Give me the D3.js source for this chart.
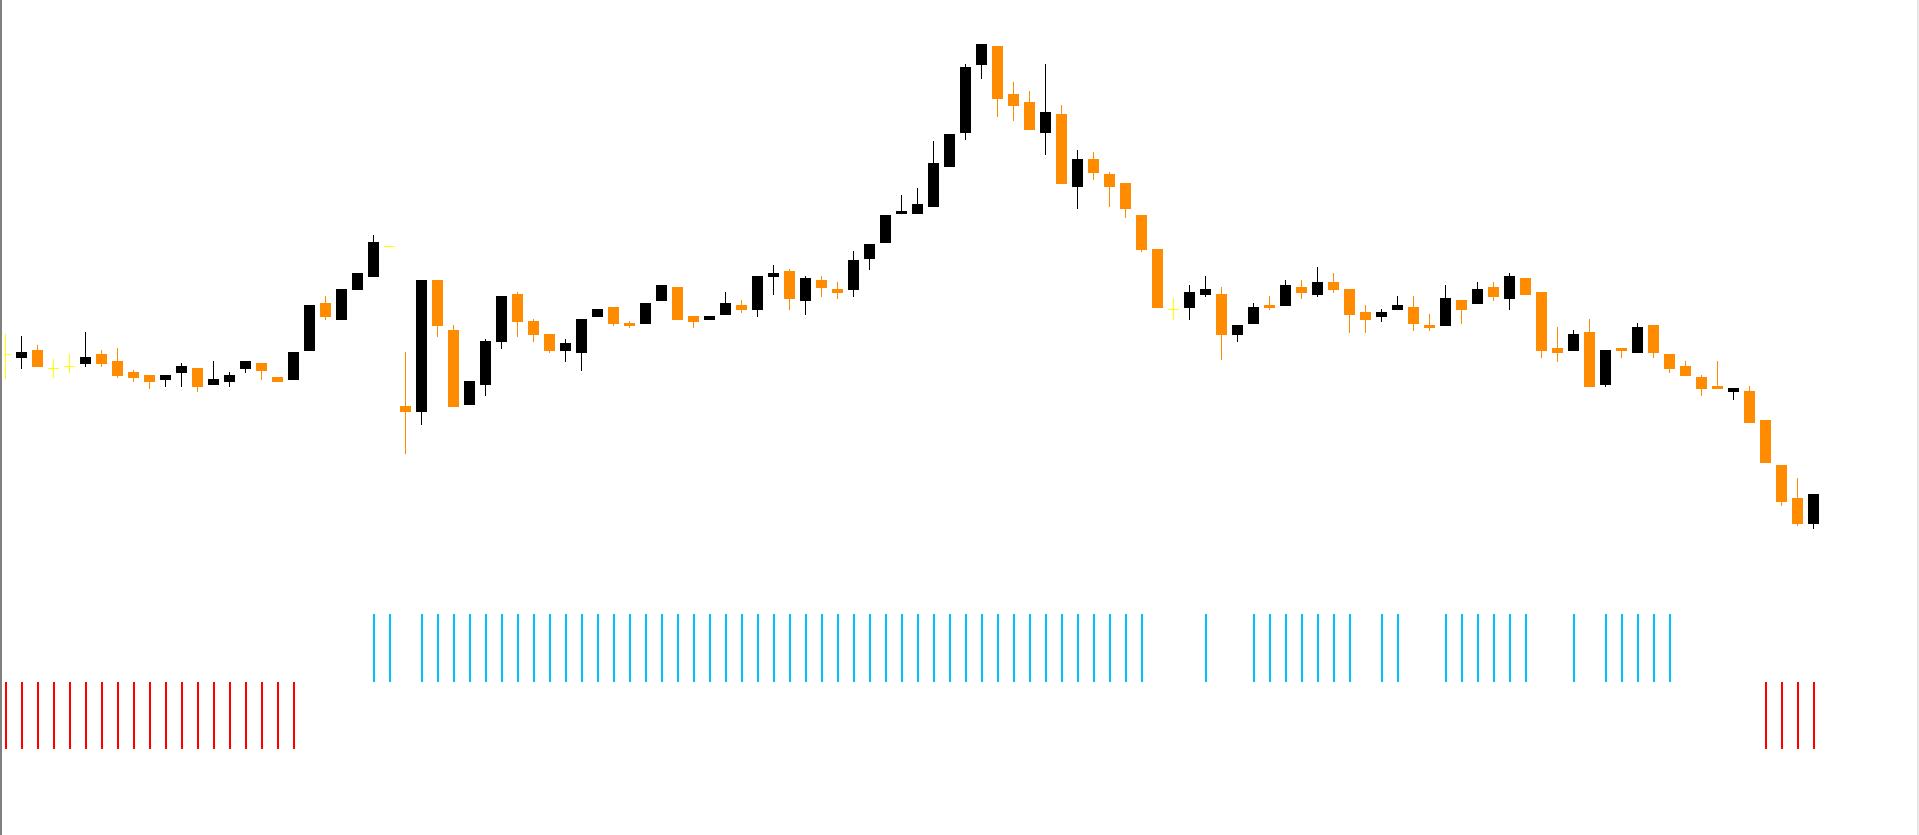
<!DOCTYPE html>
<html>
<head>
<meta charset="utf-8">
<script src="https://cdn.jsdelivr.net/npm/d3@7"></script>
<style>
  html, body { margin: 0; padding: 0; background: #ffffff; overflow: hidden; }
  svg { display: block; }
</style>
</head>
<body>
<script>
// Candle data (price units), bar index 0..113
const opens = [246,242,250,232,234,236,246,239,228,225,220,227,232,215,218,231,237,223,220,249,
  297,280,310,323,354,194,188,320,270,195,215,258,306,279,266,249,247,283,293,277,
  276,299,313,284,280,285,295,290,323,329,299,320,311,310,341,357,386,386,393,433,
  467,535,554,506,498,467,486,413,441,426,417,385,351,291,292,305,306,265,276,295,
  294,313,305,318,311,288,283,290,293,275,274,300,296,313,301,322,308,252,249,268,
  215,252,247,275,246,234,223,214,208,209,180,135,102,76];
const highs = [266,264,255,241,246,268,250,252,230,225,225,237,232,239,228,239,237,223,248,295,
  304,311,327,365,354,248,320,320,275,219,261,304,308,281,266,261,281,291,293,279,
  297,315,313,284,284,308,300,324,335,331,324,324,318,349,356,385,405,412,459,466,
  536,556,554,518,509,536,495,450,448,428,417,385,351,302,315,324,313,275,297,304,
  320,320,333,327,311,295,291,304,304,286,315,300,318,318,327,322,308,273,270,281,
  250,252,277,275,246,239,225,239,212,214,180,135,122,106];
const lows = [221,231,233,222,227,233,233,222,218,211,213,213,208,215,213,227,220,218,220,249,
  280,280,310,323,354,146,175,263,193,195,204,251,263,258,247,238,229,283,274,272,
  276,299,280,272,280,285,287,283,305,290,285,303,301,303,330,357,386,386,393,433,
  460,521,483,479,470,445,416,391,420,393,382,348,292,280,280,303,240,258,276,290,
  294,301,303,307,267,267,278,290,269,269,274,276,296,299,290,305,242,238,249,213,
  213,242,247,242,227,224,204,211,200,177,137,94,74,71];
const closes = [246,248,233,232,234,243,236,224,222,218,225,234,213,221,225,239,229,218,248,295,
  283,311,327,358,354,188,320,274,193,219,259,304,278,265,249,257,281,291,276,274,
  297,315,280,278,284,297,290,324,327,301,322,312,307,340,356,385,389,396,437,466,
  533,556,501,494,470,488,416,441,427,413,391,350,292,291,308,311,265,275,293,292,
  315,307,318,310,285,280,288,295,276,272,302,290,311,303,324,305,249,247,266,213,
  250,249,273,247,231,224,211,211,212,177,137,98,76,106];

// Signal histogram: 1 = up (blue), -1 = down (red), 0 = none
const upSignalBars = [23,24,26,27,28,29,30,31,32,33,34,35,36,37,38,39,40,41,42,43,44,45,46,47,48,49,
  50,51,52,53,54,55,56,57,58,59,60,61,62,63,64,65,66,67,68,69,70,71,75,78,79,80,81,82,83,84,86,87,
  90,91,92,93,94,95,98,100,101,102,103,104];
const downSignalBars = [0,1,2,3,4,5,6,7,8,9,10,11,12,13,14,15,16,17,18,110,111,112,113];

const W = 1919, H = 835;
const colors = { bull: "#000000", bear: "#FF8C00", doji: "#FFFF00", up: "#00BFFF", down: "#FF0000" };

const n = opens.length;
const candles = d3.range(n).map(i => ({ i, o: opens[i], h: highs[i], l: lows[i], c: closes[i] }));
const signal = d3.range(n).map(i => upSignalBars.includes(i) ? 1 : (downSignalBars.includes(i) ? -1 : 0));

const x = d3.scaleLinear().domain([0, n - 1]).range([5.5, 5.5 + 16 * (n - 1)]);
const y = d3.scaleLinear().domain([0, 600]).range([600, 0]);
const ys = d3.scaleLinear().domain([-1, 1]).range([749, 614]);
const bodyW = 11;

const svg = d3.select("body").append("svg").attr("width", W).attr("height", H);
svg.append("defs").append("clipPath").attr("id", "plot")
  .append("rect").attr("x", 5).attr("y", 0).attr("width", W - 5).attr("height", H);

const g = svg.append("g").attr("clip-path", "url(#plot)");

const colorOf = d => d.c > d.o ? colors.bull : (d.c < d.o ? colors.bear : colors.doji);

// wicks
g.append("g").selectAll("rect").data(candles.filter(d => d.h !== d.l)).join("rect")
  .attr("x", d => x(d.i) - 0.5).attr("width", 1)
  .attr("y", d => y(d.h)).attr("height", d => Math.max(1, y(d.l) - y(d.h)))
  .attr("fill", colorOf).attr("shape-rendering", "crispEdges");

// bodies
g.append("g").selectAll("rect").data(candles).join("rect")
  .attr("x", d => x(d.i) - bodyW / 2).attr("width", bodyW)
  .attr("y", d => d.o === d.c ? y(d.o) - 0.5 : y(Math.max(d.o, d.c)))
  .attr("height", d => d.o === d.c ? 1 : Math.max(1, Math.abs(y(d.o) - y(d.c))))
  .attr("fill", colorOf).attr("shape-rendering", "crispEdges");

// signal histogram
g.append("g").selectAll("rect").data(signal.map((v, i) => ({ v, i })).filter(d => d.v !== 0)).join("rect")
  .attr("x", d => x(d.i) - 1).attr("width", 2)
  .attr("y", d => Math.min(ys(d.v), ys(0)))
  .attr("height", d => Math.abs(ys(d.v) - ys(0)))
  .attr("fill", d => d.v > 0 ? colors.up : colors.down)
  .attr("shape-rendering", "crispEdges");

// frame edges
svg.append("rect").attr("x", 0).attr("y", 0).attr("width", 2).attr("height", H).attr("fill", "#808080");
svg.append("rect").attr("x", W - 2).attr("y", 0).attr("width", 2).attr("height", H).attr("fill", "#e6e6e6");
</script>
</body>
</html>
